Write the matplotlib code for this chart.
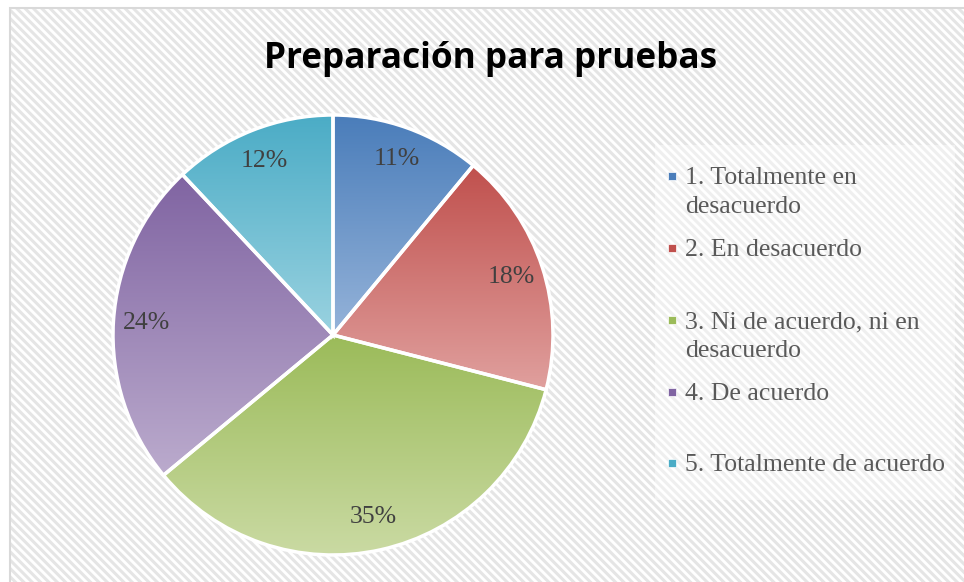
import matplotlib
matplotlib.use("Agg")
import matplotlib.pyplot as plt
from matplotlib.patches import Rectangle
import matplotlib.colors as mcolors
import numpy as np

# data
title = "Preparación para pruebas"
categories = ["1. Totalmente en\ndesacuerdo",
              "2. En desacuerdo",
              "3. Ni de acuerdo, ni en\ndesacuerdo",
              "4. De acuerdo",
              "5. Totalmente de acuerdo"]
values = [11, 18, 35, 24, 12]

# gradient colours per slice (top -> bottom)
top_colors = ["#4a7dba", "#c0504d", "#9bbb59", "#8064a2", "#4bacc6"]
bottom_colors = ["#95b3d9", "#e0a09e", "#cadaa3", "#bbabcd", "#9ad2e0"]

W, H = 964, 582
plt.rcParams["hatch.linewidth"] = 2.2

fig = plt.figure(figsize=(W / 100, H / 100), dpi=100, facecolor="white")

# hatched chart area + border
bg = Rectangle((10 / W, 0), 1, 1 - 8 / H, transform=fig.transFigure,
               facecolor="white", edgecolor="#e5e5e5", linewidth=0,
               hatch="\\\\\\\\", zorder=-3)
fig.patches.append(bg)
border = Rectangle((10 / W, -0.1), 1, 1.1 - 8 / H, transform=fig.transFigure,
                   fill=False, edgecolor="#d9d9d9", linewidth=1.5, zorder=-2)
fig.patches.append(border)
# lighter legend area
legbox = Rectangle((655 / W, 1 - 500 / H), 300 / W, 355 / H,
                   transform=fig.transFigure, facecolor="white",
                   edgecolor="none", alpha=0.4, zorder=-2)
fig.patches.append(legbox)

# pie
ax = fig.add_axes([113 / W, 27 / H, 440 / W, 440 / H])
ax.set_zorder(1)
wedges, texts, autotexts = ax.pie(
    values, startangle=90, counterclock=False,
    autopct=lambda p: f"{p:.0f}%", pctdistance=0.85,
    wedgeprops=dict(edgecolor="white", linewidth=2.5),
    textprops=dict(family="Liberation Serif", fontsize=18.5, color="#404040"))

for w, c0, c1 in zip(wedges, top_colors, bottom_colors):
    w.set_facecolor("none")
    w.set_zorder(2)
    ext = w.get_path().get_extents()
    a = np.array(mcolors.to_rgb(c0))
    b = np.array(mcolors.to_rgb(c1))
    t = np.linspace(0, 1, 256)[:, None]
    grad = (a[None, :] * (1 - t) + b[None, :] * t)[:, None, :]
    im = ax.imshow(grad, extent=[ext.x0, ext.x1, ext.y0, ext.y1],
                   origin="upper", aspect="auto", zorder=1,
                   interpolation="bilinear")
    im.set_clip_path(w)

for t in autotexts:
    t.set_zorder(3)

ax.set_xlim(-1, 1)
ax.set_ylim(-1, 1)
ax.set_aspect("equal")
ax.axis("off")

# title
fig.text(491 / W, 1 - 68 / H, title, ha="center", va="baseline",
         fontsize=25.3, fontweight="bold", family="Open Sans", color="black")

# legend (Excel-style spacing)
baselines = [184, 256, 328, 400, 471]
for lab, col, yb in zip(categories, top_colors, baselines):
    for k, line in enumerate(lab.split("\n")):
        fig.text(685 / W, 1 - (yb + 29 * k) / H, line, ha="left",
                 va="baseline", fontsize=18.5, family="Liberation Serif",
                 color="#595959")
    sq = Rectangle((668 / W, 1 - (yb - 4) / H), 8 / W, 8 / H,
                   transform=fig.transFigure, facecolor=col,
                   edgecolor="white", linewidth=0.5, zorder=3)
    fig.patches.append(sq)

fig.savefig("out.png", dpi=100)
